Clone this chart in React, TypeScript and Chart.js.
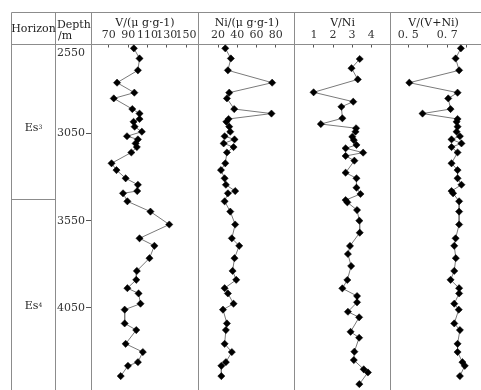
import React, { useEffect, useRef } from "react";
import { Chart, registerables } from "chart.js";

Chart.register(...registerables);

// ---- data ----
const depths = [
  2562, 2620, 2688, 2759, 2816, 2849, 2910, 2936, 2967, 2983, 3011, 3040, 3066, 3084,
  3107, 3128, 3159, 3221, 3260, 3307, 3344, 3380, 3393, 3439, 3498, 3572, 3651, 3694,
  3765, 3838, 3889, 3937, 3967, 4026, 4060, 4139, 4177, 4256, 4303, 4361, 4382, 4441,
];
const vValues = [
  95.9, 101.8, 100.1, 78.5, 96.4, 75.1, 94.3, 101.8, 101.8, 95.6, 96.7, 104.2, 88.8, 100.1,
  97.7, 99.0, 93.3, 72.8, 77.9, 87.4, 100.1, 99.4, 84.7, 89.2, 113.1, 132.6, 101.8, 117.2,
  112.1, 99.0, 98.4, 89.2, 100.8, 102.8, 86.4, 86.4, 98.4, 87.4, 105.2, 100.1, 89.8, 82.3,
];
const niValues = [
  27.5, 33.3, 30.2, 76.3, 31.6, 29.2, 36.8, 75.6, 30.9, 28.6, 31.6, 32.7, 26.8, 37.1,
  25.8, 36.1, 29.2, 27.5, 23.0, 26.8, 28.1, 37.8, 30.2, 26.8, 32.7, 37.8, 34.3, 42.0,
  37.1, 35.1, 38.9, 26.8, 30.2, 36.1, 25.1, 29.2, 28.1, 26.8, 34.3, 28.1, 23.4, 23.4,
];
const vniDepths = [
  2623, 2676, 2740, 2814, 2868, 2897, 2963, 2996, 3020, 3040, 3069, 3088, 3116, 3135,
  3160, 3179, 3206, 3275, 3307, 3361, 3397, 3432, 3445, 3489, 3550, 3619, 3695, 3741,
  3810, 3890, 3938, 3982, 4018, 4072, 4104, 4187, 4221, 4301, 4349, 4402, 4420, 4487,
];
const vniValues = [
  3.40, 2.97, 3.30, 0.98, 3.06, 2.44, 2.49, 1.36, 3.21, 3.18, 3.01, 3.09, 3.23, 2.66,
  3.58, 2.66, 3.12, 2.66, 3.23, 3.23, 3.44, 2.66, 2.75, 3.26, 3.38, 3.40, 2.89, 2.78,
  2.95, 2.75, 2.49, 3.26, 3.26, 2.78, 3.37, 2.92, 3.37, 3.12, 3.09, 3.61, 3.83, 3.38,
];
const ratioValues = [
  0.770, 0.743, 0.761, 0.505, 0.753, 0.705, 0.717, 0.573, 0.753, 0.748, 0.753, 0.748, 0.765, 0.722,
  0.773, 0.722, 0.753, 0.722, 0.753, 0.753, 0.773, 0.722, 0.730, 0.761, 0.761, 0.761, 0.743, 0.736,
  0.744, 0.736, 0.717, 0.761, 0.761, 0.736, 0.759, 0.736, 0.765, 0.753, 0.753, 0.778, 0.790, 0.765,
];

const depthTicks = [2550, 3050, 3550, 4050, 4550];
const vTicks = [70, 90, 110, 130, 150];
const niTicks = [20, 40, 60, 80];
const vniTicks = [1, 2, 3, 4];
const ratioTicks = [0.5, 0.6, 0.7, 0.8];
const ratioTickLabels = ["0. 5", "", "0. 7", ""];
const panelTitles = ["V/(μ g·g-1)", "Ni/(μ g·g-1)", "V/Ni", "V/(V+Ni)"];
const horizonNames = ["Es", "Es"];
const horizonSup = ["3", "4"];
const horizonBoundary = 3428;

const FONT = "'DejaVu Serif', 'Liberation Serif', serif";
const LINE = "#8c8c8c";

const tablePlugin = {
  id: "tableLines",
  beforeDatasetsDraw(chart: any) {
    const { ctx, chartArea, scales } = chart;
    const H = chart.height;
    const W = chart.width;
    const px = (v: number) => Math.floor(v) + 0.5;
    ctx.save();
    ctx.strokeStyle = LINE;
    ctx.lineWidth = 1;
    ctx.beginPath();
    const top = 12.5;
    const head = px(chartArea.top);
    ctx.moveTo(11.5, top); ctx.lineTo(W, top);
    ctx.moveTo(11.5, head); ctx.lineTo(W, head);
    const xs = [11.5, 55.5, px(chartArea.left), px(scales.xV.right), px(scales.xNi.right), px(scales.xVNi.right)];
    xs.forEach((x) => { ctx.moveTo(x, top); ctx.lineTo(x, H); });
    const yb = px(scales.y.getPixelForValue(horizonBoundary));
    ctx.moveTo(11.5, yb); ctx.lineTo(55.5, yb);
    ctx.stroke();
    ctx.restore();
  },
};

function xAxis(opts: any) {
  return {
    type: "linear",
    position: "top",
    stack: "panels",
    stackWeight: opts.w,
    weight: opts.weight,
    min: opts.min,
    max: opts.max,
    afterFit: (s: any) => { s.height = 32; },
    afterBuildTicks: (s: any) => { s.ticks = opts.ticks.map((v: number) => ({ value: v })); },
    ticks: {
      autoSkip: false,
      maxRotation: 0,
      minRotation: 0,
      padding: 5.4,
      color: "#333",
      font: { family: FONT, size: 11 },
      callback: opts.cb,
    },
    grid: { drawOnChartArea: false, drawTicks: true, tickLength: -3, color: "#555", lineWidth: 1 },
    border: { display: false },
    title: {
      display: true,
      text: opts.title,
      color: "#222",
      font: { family: FONT, size: 11 },
      padding: { top: 3.9, bottom: 0 },
    },
  };
}

function ds(axis: string, ys: number[], xsv: number[]) {
  return {
    xAxisID: axis,
    yAxisID: "y",
    data: ys.map((d, i) => ({ x: xsv[i], y: d })),
    borderColor: "#7a7a7a",
    borderWidth: 1,
    pointStyle: "rectRot",
    pointRadius: 3.6,
    pointBackgroundColor: "#000",
    pointBorderColor: "#000",
    pointBorderWidth: 0.5,
    tension: 0,
    fill: false,
  };
}

export default function App() {
  const ref = useRef<HTMLCanvasElement | null>(null);
  useEffect(() => {
    if (!ref.current) return;
    const chart = new Chart(ref.current, {
      type: "line",
      data: {
        datasets: [
          ds("xV", depths, vValues),
          ds("xNi", depths, niValues),
          ds("xVNi", vniDepths, vniValues),
          ds("xR", depths, ratioValues),
        ],
      },
      options: {
        animation: false,
        responsive: false,
        devicePixelRatio: 1,
        events: [],
        layout: { autoPadding: false, padding: { top: 12.5, left: 0, right: 5, bottom: 20 } },
        plugins: { legend: { display: false }, tooltip: { enabled: false } },
        scales: {
          y: {
            type: "linear",
            position: "left",
            reverse: true,
            min: 2540,
            max: 4578,
            afterFit: (s: any) => { s.width = 91; },
            afterBuildTicks: (s: any) => { s.ticks = depthTicks.map((v) => ({ value: v })); },
            ticks: {
              padding: 1,
              color: "#333",
              font: { family: FONT, size: 11 },
              callback: (v: any) => (v === depthTicks[0] ? ["", String(v)] : String(v)),
            },
            grid: {
              drawOnChartArea: false,
              drawTicks: true,
              tickLength: 5,
              color: (c: any) => (c.tick && c.tick.value === depthTicks[0] ? "rgba(0,0,0,0)" : "#555"),
            },
            border: { display: false },
          },
          xV: xAxis({ w: 109, weight: 4, min: 51.5, max: 163.3, ticks: vTicks, title: panelTitles[0], cb: (v: any) => String(v) }),
          xNi: xAxis({ w: 97, weight: 3, min: 0, max: 100, ticks: niTicks, title: panelTitles[1], cb: (v: any) => String(v) }),
          xVNi: xAxis({ w: 96.3, weight: 2, min: 0, max: 5, ticks: vniTicks, title: panelTitles[2], cb: (v: any) => String(v) }),
          xR: xAxis({ w: 87.7, weight: 1, min: 0.407, max: 0.853, ticks: ratioTicks, title: panelTitles[3], cb: (_v: any, i: number) => ratioTickLabels[i] }),
        } as any,
      },
      plugins: [tablePlugin],
    } as any);
    return () => chart.destroy();
  }, []);

  const txt: React.CSSProperties = {
    position: "absolute",
    fontFamily: FONT,
    fontSize: 11,
    lineHeight: "13px",
    color: "#222",
    whiteSpace: "nowrap",
  };
  const sup: React.CSSProperties = { fontSize: 6, verticalAlign: "top", position: "relative", top: -1 };

  return (
    <div style={{ position: "fixed", left: 0, top: 0, width: 481, height: 390, overflow: "hidden", background: "#fff" }}>
      <canvas ref={ref} width={486} height={420} style={{ position: "absolute", left: 0, top: 0, width: 486, height: 420 }} />
      <div style={{ ...txt, left: 11, width: 45, top: 22, textAlign: "center" }}>Horizon</div>
      <div style={{ ...txt, left: 57, top: 17.5 }}>Depth</div>
      <div style={{ ...txt, left: 58, top: 29 }}>/m</div>
      <div style={{ ...txt, left: 12, width: 43, top: 121, textAlign: "center" }}>
        {horizonNames[0]}<span style={sup}>{horizonSup[0]}</span>
      </div>
      <div style={{ ...txt, left: 12, width: 43, top: 298.5, textAlign: "center" }}>
        {horizonNames[1]}<span style={sup}>{horizonSup[1]}</span>
      </div>
    </div>
  );
}
